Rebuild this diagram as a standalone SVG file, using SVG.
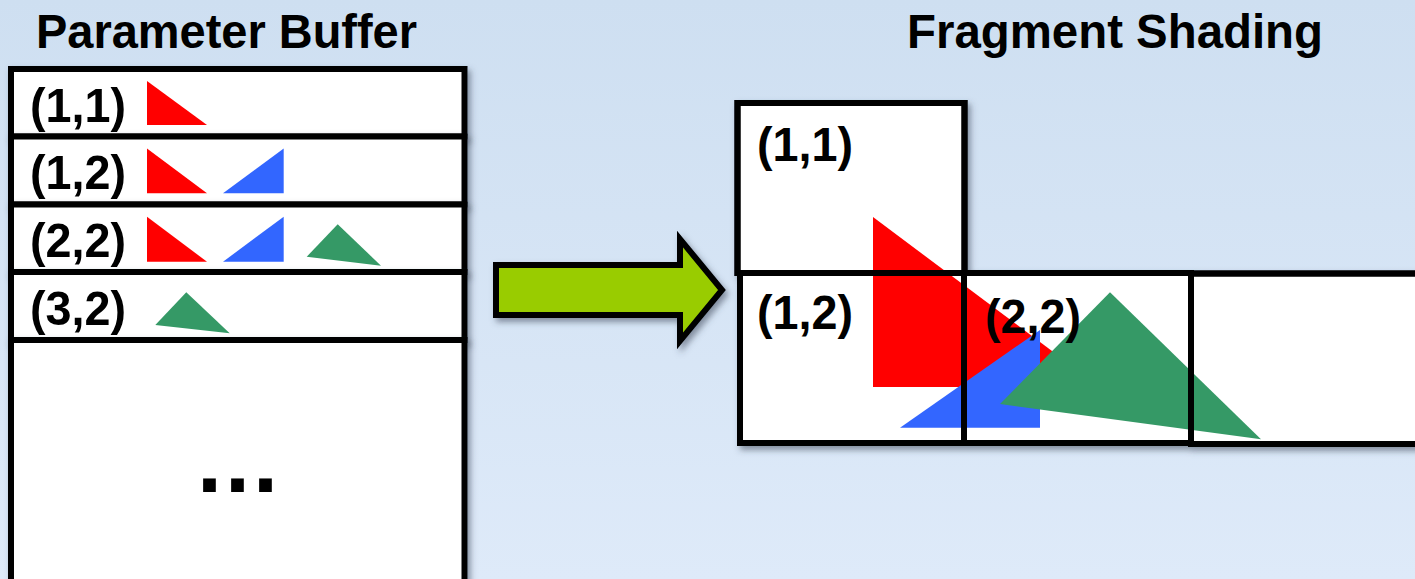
<svg xmlns="http://www.w3.org/2000/svg" width="1415" height="579" viewBox="0 0 1415 579">
  <defs>
    <linearGradient id="bg" x1="0" y1="0" x2="0" y2="1">
      <stop offset="0" stop-color="#CEDFF1"/>
      <stop offset="1" stop-color="#DEEAF9"/>
    </linearGradient>
    <filter id="shadow" x="-10%" y="-10%" width="125%" height="130%">
      <feDropShadow dx="3" dy="4" stdDeviation="3" flood-color="#3a4556" flood-opacity="0.55"/>
    </filter>
    <style>
      .box { fill: #FFFFFF; stroke: #000000; stroke-width: 6; }
      .outline { fill: none; stroke: #000000; stroke-width: 6; }
      .label { font-family: "Liberation Sans", Arial, Helvetica, sans-serif; font-weight: bold; font-size: 48px; fill: #000000; }
      .red { fill: #FF0000; }
      .blue { fill: #3366FF; }
      .green { fill: #359966; }
    </style>
  </defs>

  <!-- backdrop -->
  <rect x="0" y="0" width="1415" height="579" fill="url(#bg)"/>

  <!-- headings -->
  <text class="label" x="36" y="48" textLength="381" lengthAdjust="spacingAndGlyphs">Parameter Buffer</text>
  <text class="label" x="1115" y="48" text-anchor="middle" textLength="416" lengthAdjust="spacingAndGlyphs">Fragment Shading</text>

  <!-- parameter buffer: one bin per tile -->
  <g id="bin-1-1" filter="url(#shadow)">
    <rect class="box" x="11" y="69" width="453.5" height="67.5"/>
    <text class="label" x="30" y="122" textLength="96" lengthAdjust="spacingAndGlyphs">(1,1)</text>
    <polygon class="red" points="147,81 147,125 207,125"/>
  </g>
  <g id="bin-1-2" filter="url(#shadow)">
    <rect class="box" x="11" y="136.5" width="453.5" height="68"/>
    <text class="label" x="30" y="189" textLength="96" lengthAdjust="spacingAndGlyphs">(1,2)</text>
    <polygon class="red" points="147,148.5 147,193.3 207,193.3"/>
    <polygon class="blue" points="223,193.3 283.7,148.5 283.7,193.3"/>
  </g>
  <g id="bin-2-2" filter="url(#shadow)">
    <rect class="box" x="11" y="204.5" width="453.5" height="67.5"/>
    <text class="label" x="30" y="257" textLength="96" lengthAdjust="spacingAndGlyphs">(2,2)</text>
    <polygon class="red" points="147,216.7 147,261.7 207,261.7"/>
    <polygon class="blue" points="223,261.7 283.7,216.7 283.7,261.7"/>
    <polygon class="green" points="306.7,256.7 337.7,224.3 381,265.7"/>
  </g>
  <g id="bin-3-2" filter="url(#shadow)">
    <rect class="box" x="11" y="272" width="453.5" height="68"/>
    <text class="label" x="30" y="325" textLength="96" lengthAdjust="spacingAndGlyphs">(3,2)</text>
    <polygon class="green" points="155.3,325 186.3,292.3 229.7,333.3"/>
  </g>
  <g id="bin-more" filter="url(#shadow)">
    <rect class="box" x="11" y="340" width="453.5" height="245"/>
    <text class="label" x="239" y="492" text-anchor="middle" style="font-size:90px" letter-spacing="3">...</text>
  </g>

  <!-- connector: buffer feeds fragment shading -->
  <g id="connectors">
    <polygon filter="url(#shadow)" points="496,265 680,265 680,239 722,290 680,341 680,315 496,315"
             fill="#99CC00" stroke="#000000" stroke-width="6" stroke-linejoin="miter"/>
  </g>

  <!-- tile backgrounds with shadows -->
  <g id="tile-backs" filter="url(#shadow)">
    <rect class="box" x="737.5" y="103" width="227" height="170"/>
    <rect class="box" x="740" y="273" width="224" height="170"/>
    <rect class="box" x="964" y="273" width="227" height="170"/>
    <rect class="box" x="1191" y="273.5" width="227" height="170.5"/>
  </g>

  <!-- primitives rasterised across the tiles -->
  <g id="primitives">
    <polygon class="red" points="873,217 873,387 1100,387"/>
    <polygon class="blue" points="900,427.7 1040,330 1040,427.7"/>
    <polygon class="green" points="1000,404 1110,292.3 1261,439.3"/>
  </g>

  <!-- tiles -->
  <g id="tile-1-1">
    <rect class="outline" x="737.5" y="103" width="227" height="170"/>
    <text class="label" x="757" y="161" textLength="96" lengthAdjust="spacingAndGlyphs">(1,1)</text>
  </g>
  <g id="tile-1-2">
    <rect class="outline" x="740" y="273" width="224" height="170"/>
    <text class="label" x="757" y="329" textLength="96" lengthAdjust="spacingAndGlyphs">(1,2)</text>
  </g>
  <g id="tile-2-2">
    <rect class="outline" x="964" y="273" width="227" height="170"/>
    <text class="label" x="985" y="333" textLength="96" lengthAdjust="spacingAndGlyphs">(2,2)</text>
  </g>
  <g id="tile-3-2">
    <rect class="outline" x="1191" y="273.5" width="227" height="170.5"/>
  </g>
</svg>
